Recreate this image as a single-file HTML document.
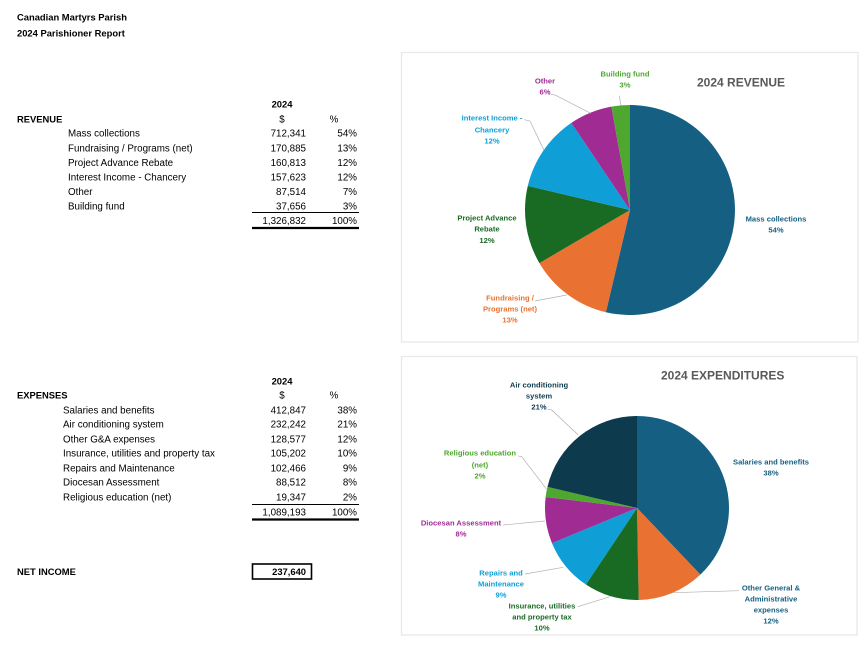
<!DOCTYPE html>
<html>
<head>
<meta charset="utf-8">
<style>
html,body{margin:0;padding:0;background:#fff;}
svg{display:block;}
.t{font-family:"Liberation Sans",sans-serif;font-size:9.8px;fill:#000;}
.b{font-family:"Liberation Sans",sans-serif;font-size:9.4px;font-weight:bold;fill:#000;}
.l{font-family:"Liberation Sans",sans-serif;font-size:7.6px;font-weight:bold;text-anchor:middle;}
.ct{font-family:"Liberation Sans",sans-serif;font-size:12px;font-weight:bold;fill:#595959;}
.r{text-anchor:end;}
.m{text-anchor:middle;}
</style>
</head>
<body>
<svg width="864" height="648" viewBox="0 0 864 648" xmlns="http://www.w3.org/2000/svg">
<rect width="864" height="648" fill="#fff"/>

<!-- Header -->
<text class="b" x="17" y="20.5">Canadian Martyrs Parish</text>
<text class="b" x="17" y="36.5">2024 Parishioner Report</text>

<!-- REVENUE table -->
<text class="b m" x="282" y="107.5">2024</text>
<text class="b" x="17" y="122.5">REVENUE</text>
<text class="t m" x="282" y="122.5">$</text>
<text class="t m" x="334" y="122.5">%</text>

<text class="t" x="68" y="136.5">Mass collections</text>
<text class="t r" x="306" y="136.5">712,341</text>
<text class="t r" x="357" y="136.5">54%</text>

<text class="t" x="68" y="151.5">Fundraising / Programs (net)</text>
<text class="t r" x="306" y="151.5">170,885</text>
<text class="t r" x="357" y="151.5">13%</text>

<text class="t" x="68" y="166">Project Advance Rebate</text>
<text class="t r" x="306" y="166">160,813</text>
<text class="t r" x="357" y="166">12%</text>

<text class="t" x="68" y="180.5">Interest Income - Chancery</text>
<text class="t r" x="306" y="180.5">157,623</text>
<text class="t r" x="357" y="180.5">12%</text>

<text class="t" x="68" y="195">Other</text>
<text class="t r" x="306" y="195">87,514</text>
<text class="t r" x="357" y="195">7%</text>

<text class="t" x="68" y="209.5">Building fund</text>
<text class="t r" x="306" y="209.5">37,656</text>
<text class="t r" x="357" y="209.5">3%</text>

<line x1="252" y1="212.5" x2="359" y2="212.5" stroke="#000" stroke-width="1"/>
<text class="t r" x="306" y="224">1,326,832</text>
<text class="t r" x="357" y="224">100%</text>
<line x1="252" y1="228" x2="359" y2="228" stroke="#000" stroke-width="2.2"/>

<!-- EXPENSES table -->
<text class="b m" x="282" y="384.5">2024</text>
<text class="b" x="17" y="398.5">EXPENSES</text>
<text class="t m" x="282" y="398.5">$</text>
<text class="t m" x="334" y="398.5">%</text>

<text class="t" x="63" y="413.5">Salaries and benefits</text>
<text class="t r" x="306" y="413.5">412,847</text>
<text class="t r" x="357" y="413.5">38%</text>

<text class="t" x="63" y="427.5">Air conditioning system</text>
<text class="t r" x="306" y="427.5">232,242</text>
<text class="t r" x="357" y="427.5">21%</text>

<text class="t" x="63" y="442.5">Other G&amp;A expenses</text>
<text class="t r" x="306" y="442.5">128,577</text>
<text class="t r" x="357" y="442.5">12%</text>

<text class="t" x="63" y="456.5">Insurance, utilities and property tax</text>
<text class="t r" x="306" y="456.5">105,202</text>
<text class="t r" x="357" y="456.5">10%</text>

<text class="t" x="63" y="471.5">Repairs and Maintenance</text>
<text class="t r" x="306" y="471.5">102,466</text>
<text class="t r" x="357" y="471.5">9%</text>

<text class="t" x="63" y="485.5">Diocesan Assessment</text>
<text class="t r" x="306" y="485.5">88,512</text>
<text class="t r" x="357" y="485.5">8%</text>

<text class="t" x="63" y="500.5">Religious education (net)</text>
<text class="t r" x="306" y="500.5">19,347</text>
<text class="t r" x="357" y="500.5">2%</text>

<line x1="252" y1="504.5" x2="359" y2="504.5" stroke="#000" stroke-width="1"/>
<text class="t r" x="306" y="515.5">1,089,193</text>
<text class="t r" x="357" y="515.5">100%</text>
<line x1="252" y1="519.5" x2="359" y2="519.5" stroke="#000" stroke-width="2.2"/>

<!-- NET INCOME -->
<text class="b" x="17" y="575">NET INCOME</text>
<rect x="252.5" y="564" width="59" height="15" fill="none" stroke="#000" stroke-width="1.6"/>
<text class="b r" x="306" y="575">237,640</text>

<!-- Revenue chart -->
<rect x="401.5" y="52.5" width="456.5" height="289.5" fill="#fff" stroke="#e8e8e8" stroke-width="1.3"/>
<text class="ct" x="697" y="86.5">2024 REVENUE</text>
<g>
<path d="M630,210 L630,105 A105,105 0 1 1 605.89,312.20 Z" fill="#156082"/>
<path d="M630,210 L605.89,312.20 A105,105 0 0 1 539.41,263.08 Z" fill="#E97132"/>
<path d="M630,210 L539.41,263.08 A105,105 0 0 1 527.80,185.89 Z" fill="#196B24"/>
<path d="M630,210 L527.80,185.89 A105,105 0 0 1 571.36,122.90 Z" fill="#0F9ED5"/>
<path d="M630,210 L571.36,122.90 A105,105 0 0 1 611.37,106.66 Z" fill="#A02B93"/>
<path d="M630,210 L611.37,106.66 A105,105 0 0 1 630,105 Z" fill="#4EA72E"/>
</g>
<g fill="none" stroke="#b0b0b0" stroke-width="0.7">
<polyline points="551,94.3 555,95 590.7,113.3"/>
<polyline points="524.3,119.7 530,121 544,150.3"/>
<polyline points="619.3,95.7 621,105.7"/>
<polyline points="535,301 566.7,295"/>
</g>
<text class="l" fill="#156082" x="776" y="221.7">Mass collections</text>
<text class="l" fill="#156082" x="776" y="232.7">54%</text>
<text class="l" fill="#E97132" x="510" y="300.7">Fundraising /</text>
<text class="l" fill="#E97132" x="510" y="311.7">Programs (net)</text>
<text class="l" fill="#E97132" x="510" y="322.7">13%</text>
<text class="l" fill="#196B24" x="487" y="220.7">Project Advance</text>
<text class="l" fill="#196B24" x="487" y="231.7">Rebate</text>
<text class="l" fill="#196B24" x="487" y="243.2">12%</text>
<text class="l" fill="#0F9ED5" x="492" y="120.7">Interest Income -</text>
<text class="l" fill="#0F9ED5" x="492" y="132.7">Chancery</text>
<text class="l" fill="#0F9ED5" x="492" y="143.7">12%</text>
<text class="l" fill="#A02B93" x="545" y="83.7">Other</text>
<text class="l" fill="#A02B93" x="545" y="94.7">6%</text>
<text class="l" fill="#4EA72E" x="625" y="76.7">Building fund</text>
<text class="l" fill="#4EA72E" x="625" y="87.7">3%</text>

<!-- Expenditures chart -->
<rect x="401.5" y="356.5" width="455.5" height="278.5" fill="#fff" stroke="#e8e8e8" stroke-width="1.3"/>
<text class="ct" x="661" y="379.5">2024 EXPENDITURES</text>
<g>
<path d="M637,508 L637,416 A92,92 0 0 1 700.38,574.68 Z" fill="#156082"/>
<path d="M637,508 L700.38,574.68 A92,92 0 0 1 638.69,599.98 Z" fill="#E97132"/>
<path d="M637,508 L638.69,599.98 A92,92 0 0 1 585.92,584.52 Z" fill="#196B24"/>
<path d="M637,508 L585.92,584.52 A92,92 0 0 1 551.95,543.07 Z" fill="#0F9ED5"/>
<path d="M637,508 L551.95,543.07 A92,92 0 0 1 545.65,497.02 Z" fill="#A02B93"/>
<path d="M637,508 L545.65,497.02 A92,92 0 0 1 547.45,486.93 Z" fill="#4EA72E"/>
<path d="M637,508 L547.45,486.93 A92,92 0 0 1 637,416 Z" fill="#0E3A4E"/>
</g>
<g fill="none" stroke="#b0b0b0" stroke-width="0.7">
<polyline points="547.3,409.3 551.7,410 578.3,435"/>
<polyline points="518.3,456 521.7,456.7 546.7,489.3"/>
<polyline points="503.3,525 545,521"/>
<polyline points="525,574 563.3,567.3"/>
<polyline points="577.7,606.7 610,596.7"/>
<polyline points="739,590.7 673.3,592.7"/>
</g>
<text class="l" fill="#156082" x="771" y="464.7">Salaries and benefits</text>
<text class="l" fill="#156082" x="771" y="475.7">38%</text>
<text class="l" fill="#156082" x="771" y="590.7">Other General &amp;</text>
<text class="l" fill="#156082" x="771" y="601.7">Administrative</text>
<text class="l" fill="#156082" x="771" y="612.7">expenses</text>
<text class="l" fill="#156082" x="771" y="623.7">12%</text>
<text class="l" fill="#196B24" x="542" y="608.7">Insurance, utilities</text>
<text class="l" fill="#196B24" x="542" y="619.7">and property tax</text>
<text class="l" fill="#196B24" x="542" y="630.7">10%</text>
<text class="l" fill="#0F9ED5" x="501" y="575.7">Repairs and</text>
<text class="l" fill="#0F9ED5" x="501" y="586.7">Maintenance</text>
<text class="l" fill="#0F9ED5" x="501" y="597.7">9%</text>
<text class="l" fill="#A02B93" x="461" y="525.7">Diocesan Assessment</text>
<text class="l" fill="#A02B93" x="461" y="536.7">8%</text>
<text class="l" fill="#4EA72E" x="480" y="455.7">Religious education</text>
<text class="l" fill="#4EA72E" x="480" y="467.7">(net)</text>
<text class="l" fill="#4EA72E" x="480" y="478.7">2%</text>
<text class="l" fill="#0E3A4E" x="539" y="387.7">Air conditioning</text>
<text class="l" fill="#0E3A4E" x="539" y="398.7">system</text>
<text class="l" fill="#0E3A4E" x="539" y="409.7">21%</text>
</svg>
</body>
</html>
